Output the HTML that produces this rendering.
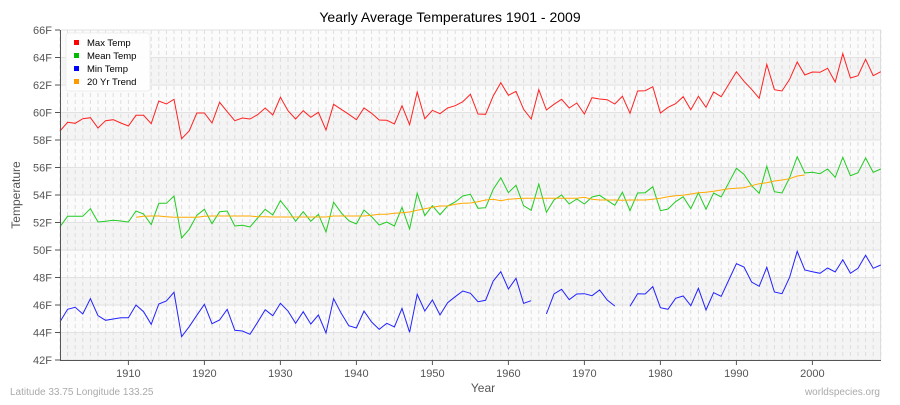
<!DOCTYPE html>
<html><head><meta charset="utf-8"><style>
body{margin:0;background:#fff;width:900px;height:400px;overflow:hidden;font-family:"Liberation Sans",sans-serif}
</style></head><body>
<svg id="s" width="900" height="400" xmlns="http://www.w3.org/2000/svg" font-family="Liberation Sans, sans-serif">
<rect width="900" height="400" fill="#fff"/>
<text x="450" y="22" text-anchor="middle" font-size="14" fill="#000">Yearly Average Temperatures 1901 - 2009</text>
<g id="bands"></g>
<g id="grid"></g>
<g id="series"></g>
<line x1="60.5" y1="30" x2="60.5" y2="360" stroke="#555" stroke-width="1"/>
<line x1="60" y1="360.5" x2="881" y2="360.5" stroke="#555" stroke-width="1"/>
<g id="labels" font-size="11" fill="#555"></g>
<text x="20" y="195" font-size="12" fill="#555" text-anchor="middle" transform="rotate(-90 20 195)">Temperature</text>
<text x="483" y="392" font-size="12" fill="#555" text-anchor="middle">Year</text>
<text x="10" y="395" font-size="10" fill="#aaa">Latitude 33.75 Longitude 133.25</text>
<text x="880" y="395" font-size="10" fill="#aaa" text-anchor="end">worldspecies.org</text>
<g>
<rect x="66" y="33" width="84" height="58" rx="3" fill="#fff" stroke="#eee" opacity="0.95"/>
<rect x="74" y="40" width="5" height="5" fill="#f00"/><text x="87" y="46" font-size="9.5" fill="#000">Max Temp</text>
<rect x="74" y="53" width="5" height="5" fill="#0b0"/><text x="87" y="59" font-size="9.5" fill="#000">Mean Temp</text>
<rect x="74" y="66" width="5" height="5" fill="#00f"/><text x="87" y="72" font-size="9.5" fill="#000">Min Temp</text>
<rect x="74" y="79" width="5" height="5" fill="#f90"/><text x="87" y="85" font-size="9.5" fill="#000">20 Yr Trend</text>
</g>
</svg>
<script>
var NS="http://www.w3.org/2000/svg";
function el(p,t,a){var e=document.createElementNS(NS,t);for(var k in a)e.setAttribute(k,a[k]);document.getElementById(p).appendChild(e);return e;}
for(var i=0;i<12;i++){var y=30+i*27.5;el("bands","rect",{x:61,y:y,width:820,height:27.5,fill:i%2?"#f4f4f4":"#fbfbfb"});}
for(var yr=1901;yr<=2009;yr++){var x=60+(yr-1901)*7.6;el("grid","line",{x1:x,y1:30,x2:x,y2:360,stroke:"#ddd","stroke-dasharray":"4,3","stroke-width":1});}
for(var i=0;i<=12;i++){var y=30+i*27.5;el("grid","line",{x1:61,y1:y,x2:881,y2:y,stroke:"#e2e2e2","stroke-width":1});
el("grid","line",{x1:55,y1:y,x2:60,y2:y,stroke:"#555"});
var t=el("labels","text",{x:52,y:y+4,"text-anchor":"end"});t.textContent=(66-2*i)+"F";}
el("grid","line",{x1:880.5,y1:30,x2:880.5,y2:360,stroke:"#ddd"});
for(var yr=1910;yr<=2000;yr+=10){var x=60+(yr-1901)*7.6;el("grid","line",{x1:x,y1:360,x2:x,y2:365,stroke:"#555"});var t=el("labels","text",{x:x,y:377,"text-anchor":"middle"});t.textContent=yr;}
var mx=[333,307,310,296,293,324,302,299,309,318,286,286,311,243,252,238,356,333,279,279,309,247,275,302,294,297,284,264,285,232,272,297,272,292,277,330,253,268,283,299,264,280,300,301,312,257,314,216,296,271,281,264,257,245,223,282,283,228,188,226,214,268,297,209,270,253,238,264,249,282,233,237,239,252,229,280,213,212,200,279,262,251,230,269,229,262,216,230,193,155,184,208,235,133,209,213,178,126,165,156,157,145,186,101,174,167,118,167,155];
var mn=[620,589,589,589,566,606,604,601,603,606,573,582,614,550,550,528,654,628,586,568,611,575,573,618,616,621,594,568,585,542,570,604,575,604,583,636,547,578,602,612,570,590,615,606,618,562,627,520,587,557,584,558,546,528,523,565,563,508,473,518,496,557,571,492,577,540,525,552,537,552,531,526,541,556,517,572,519,518,500,572,567,545,530,566,518,568,519,531,488,445,463,497,520,439,515,519,473,410,459,457,461,447,472,412,467,458,414,457,447];
var mi=[905,868,862,882,836,887,901,897,893,893,855,875,913,852,843,817,950,920,886,853,911,900,868,931,933,943,907,869,887,850,873,910,875,912,885,939,836,880,917,924,873,906,928,910,921,865,937,823,873,840,885,848,830,813,820,845,841,783,755,807,775,850,842,null,882,822,808,839,822,821,827,810,840,858,null,859,821,822,800,863,868,835,828,857,805,870,818,829,780,731,741,786,799,742,816,821,772,694,750,755,760,744,756,719,760,745,706,745,735];
var tr={1911:592,1912:589,1913:588,1914:588,1915:590,1916:592,1917:592,1918:592,1919:592,1920:589,1921:588,1922:588,1923:588,1924:588,1925:588,1926:588,1927:590,1928:590,1929:591,1930:591,1931:591,1932:591,1933:591,1934:591,1935:591,1936:591,1937:588,1938:588,1939:588,1940:588,1941:588,1942:586,1943:583,1944:583,1945:580,1946:578,1947:576,1948:571,1949:566,1950:562,1951:558,1952:558,1953:553,1954:550,1955:549,1956:545,1957:540,1958:538,1959:542,1960:538,1961:536,1962:535,1963:535,1964:535,1965:535,1966:535,1967:535,1968:535,1969:535,1970:532,1971:538,1972:540,1973:540,1974:540,1975:541,1976:540,1977:540,1978:540,1979:538,1980:535,1981:530,1982:527,1983:526,1984:522,1985:518,1986:517,1987:514,1988:510,1989:506,1990:505,1991:503,1992:497,1993:491,1994:488,1995:483,1996:480,1997:476,1998:468,1999:465};
function line(arr,col){var d="",pen=false;for(var i=0;i<arr.length;i++){if(arr[i]==null){pen=false;continue;}var x=(60+i*7.6).toFixed(1),y=(20+arr[i]/3).toFixed(1);d+=(pen?"L":"M")+x+" "+y+" ";pen=true;}el("series","path",{d:d,fill:"none",stroke:col,"stroke-width":1});}
var ta=[];for(var i=0;i<109;i++){ta.push(tr[1901+i]!==undefined?tr[1901+i]:null);}
line(mx,"#f22");line(mn,"#2c2");line(ta,"#fa0");line(mi,"#22f");
</script>
</body></html>
